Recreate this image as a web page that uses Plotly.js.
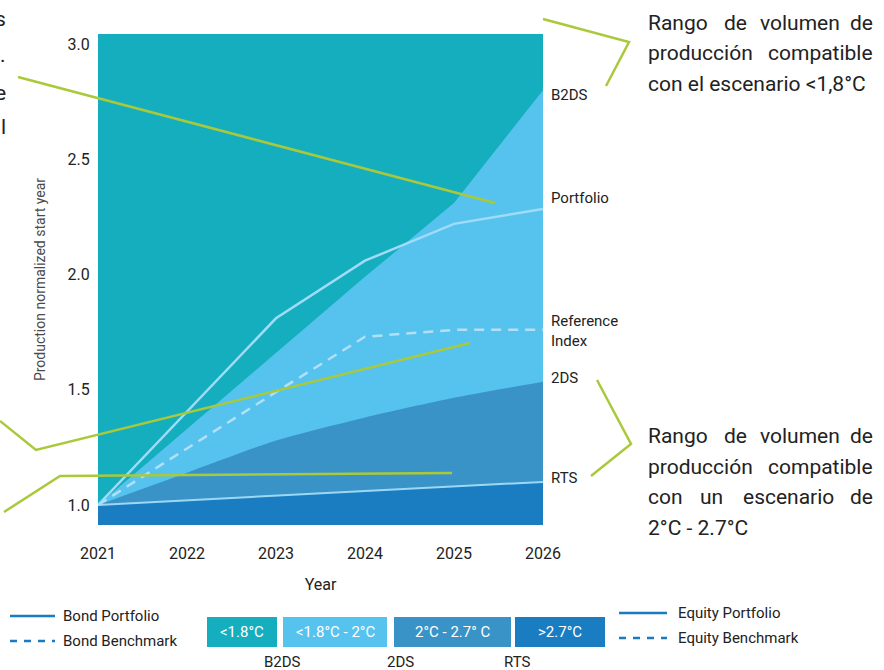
<!DOCTYPE html>
<html>
<head>
<meta charset="utf-8">
<script src="https://cdn.plot.ly/plotly-3.0.1.min.js"></script>
<style>html,body{margin:0;padding:0;background:#fff;}#chart{width:884px;height:670px;}</style>
</head>
<body>
<div id="chart"></div>
<script>
// ---- data ----
const years = [2021, 2022, 2023, 2024, 2025, 2026];
const b2dsUpper = [1.0, 1.33, 1.66, 1.99, 2.31, 2.80];
const twoDSUpper = [1.0, 1.14, 1.28, 1.38, 1.465, 1.535];
const rtsUpper = [1.0, 1.02, 1.04, 1.06, 1.08, 1.10];
const portfolio = [1.0, 1.405, 1.81, 2.06, 2.22, 2.285];
const referenceIndex = [1.0, 1.245, 1.49, 1.73, 1.76, 1.76];
const yTickVals = [1.0, 1.5, 2.0, 2.5, 3.0];
const yTickText = ["1.0", "1.5", "2.0", "2.5", "3.0"];
const xTickVals = [2021, 2022, 2023, 2024, 2025, 2026];
const xTickText = ["2021", "2022", "2023", "2024", "2025", "2026"];
const endLabels = ["B2DS", "Portfolio", "Reference<br>Index", "2DS", "RTS"];
const boxLabels = ["<1.8°C", "<1.8°C - 2°C", "2°C - 2.7° C", ">2.7°C"];
const boxScenarios = ["B2DS", "2DS", "RTS"];
const legendLeft = ["Bond Portfolio", "Bond Benchmark"];
const legendRight = ["Equity Portfolio", "Equity Benchmark"];

// ---- styling ----
const C_TEAL = "#15aebf", C_LIGHT = "#56c3ef", C_MID = "#3a93c6", C_DARK = "#1a7cc1";
const C_GREEN = "#a9c93b", C_LINE = "#a0dbf7";
const FONT = "Roboto, 'Open Sans', sans-serif";
const W = 884, H = 670, L = 98, R = 543, T = 34, B = 525;
const px = x => (x - L) / (R - L);
const py = y => (B - y) / (B - T);

const traces = [
  {x: years, y: b2dsUpper, type: "scatter", mode: "lines", fill: "tozeroy",
   fillcolor: C_LIGHT, line: {width: 0, color: C_LIGHT}, hoverinfo: "skip"},
  {x: years, y: twoDSUpper, type: "scatter", mode: "lines", fill: "tozeroy",
   fillcolor: C_MID, line: {width: 0, color: C_MID, shape: "spline", smoothing: 0.6}, hoverinfo: "skip"},
  {x: years, y: rtsUpper, type: "scatter", mode: "lines", fill: "tozeroy",
   fillcolor: C_DARK, line: {width: 2, color: "#9cd8f5"}, hoverinfo: "skip"},
  {x: years, y: referenceIndex, type: "scatter", mode: "lines",
   line: {width: 2.5, color: "#b2e0f7", dash: "10px,7px"}, hoverinfo: "skip"},
  {x: years, y: portfolio, type: "scatter", mode: "lines",
   line: {width: 2.5, color: C_LINE}, hoverinfo: "skip"}
];

const shapes = [];
const annotations = [];
function poly(pts, color, width, dash) {
  let d = "M" + pts.map(p => px(p[0]) + "," + py(p[1])).join(" L");
  shapes.push({type: "path", xref: "paper", yref: "paper", path: d, layer: "above",
    line: {color: color, width: width, dash: dash || "solid"}});
}
function text(t, x, y, opts) {
  opts = opts || {};
  annotations.push(Object.assign({text: t, xref: "paper", yref: "paper", x: px(x), y: py(y),
    showarrow: false, xanchor: "left", yanchor: "middle", align: "left", borderpad: 0,
    font: {family: FONT, size: 15, color: "#222"}}, opts));
}

// green callout lines
poly([[18, 77], [495, 203]], C_GREEN, 2.5);
poly([[0, 421], [36, 450], [470, 343]], C_GREEN, 2.5);
poly([[4, 512], [60, 476], [452, 473]], C_GREEN, 2.5);
poly([[543, 19], [629, 42], [606, 86]], C_GREEN, 2.5);
poly([[597, 380], [631, 444], [591, 476]], C_GREEN, 2.5);

// end labels
const endY = [95, 198, 331, 378, 478];
endLabels.forEach((t, i) => text(t, 550, endY[i], {font: {family: FONT, size: 15, color: "#222"}}));

// cut-off left paragraph characters
const bigFont = {family: FONT, size: 21, color: "#222"};
[["s", 19], [".", 55], ["e", 93], ["l", 127]].forEach(c =>
  text(c[0], 7, c[1], {xanchor: "right", font: bigFont}));

// right justified text blocks
function words(list, y) {
  list.forEach(w => text(w[0], w[1], y, {xanchor: w[2] || "left", font: bigFont}));
}
words([["Rango", 647], ["de", 723], ["volumen", 759], ["de", 874, "right"]], 23);
words([["producción", 647], ["compatible", 874, "right"]], 53);
words([["con el escenario &lt;1,8°C", 647]], 84);
words([["Rango", 647], ["de", 723], ["volumen", 759], ["de", 874, "right"]], 436);
words([["producción", 647], ["compatible", 874, "right"]], 467);
words([["con", 647], ["un", 699], ["escenario", 742], ["de", 874, "right"]], 497);
words([["2°C - 2.7°C", 647]], 528);

// bottom legend: line samples
const LB = "#1a7bc0";
poly([[10, 616], [55, 616]], LB, 2.5);
poly([[10, 641], [55, 641]], LB, 2.5, "7px,7px");
poly([[619, 613], [667, 613]], LB, 2.5);
poly([[619, 638], [667, 638]], LB, 2.5, "7px,7px");
text(legendLeft[0], 62, 616);
text(legendLeft[1], 62, 641);
text(legendRight[0], 677, 613);
text(legendRight[1], 677, 638);

// coloured boxes
const boxX = [[207, 277], [283, 387], [394, 511], [515, 605]];
const boxC = [C_TEAL, C_LIGHT, C_MID, C_DARK];
boxX.forEach((b, i) => {
  shapes.push({type: "rect", xref: "paper", yref: "paper", x0: px(b[0]), x1: px(b[1]),
    y0: py(647), y1: py(617), fillcolor: boxC[i], line: {width: 0}, layer: "above"});
  text(boxLabels[i].replace("<", "&lt;").replace(">", "&gt;"), (b[0] + b[1]) / 2, 632,
    {xanchor: "center", align: "center", font: {family: FONT, size: 15, color: "#ffffff"}});
});
const scenX = [282, 400, 517];
boxScenarios.forEach((t, i) => text(t, scenX[i], 662, {xanchor: "center", align: "center"}));

const layout = {
  width: W, height: H,
  margin: {l: L, r: W - R, t: T, b: H - B, pad: 0},
  paper_bgcolor: "#ffffff",
  plot_bgcolor: C_TEAL,
  showlegend: false,
  font: {family: FONT, color: "#222"},
  xaxis: {
    range: [2021, 2026], tickvals: xTickVals, ticktext: xTickText,
    showgrid: false, zeroline: false, showline: false,
    ticks: "outside", ticklen: 14, tickcolor: "rgba(0,0,0,0)",
    tickfont: {family: FONT, size: 16, color: "#222"},
    title: {text: "Year", font: {family: FONT, size: 16, color: "#222"}, standoff: 16}
  },
  yaxis: {
    range: [0.913, 3.044], tickvals: yTickVals, ticktext: yTickText,
    showgrid: false, zeroline: false, showline: false,
    ticks: "outside", ticklen: 4, tickcolor: "rgba(0,0,0,0)",
    tickfont: {family: FONT, size: 16, color: "#222"},
    title: {text: "Production normalized start year", font: {family: FONT, size: 14, color: "#4a4a4a"}, standoff: 18}
  },
  shapes: shapes,
  annotations: annotations
};

Plotly.newPlot("chart", traces, layout, {staticPlot: true, displayModeBar: false});
</script>
</body>
</html>
